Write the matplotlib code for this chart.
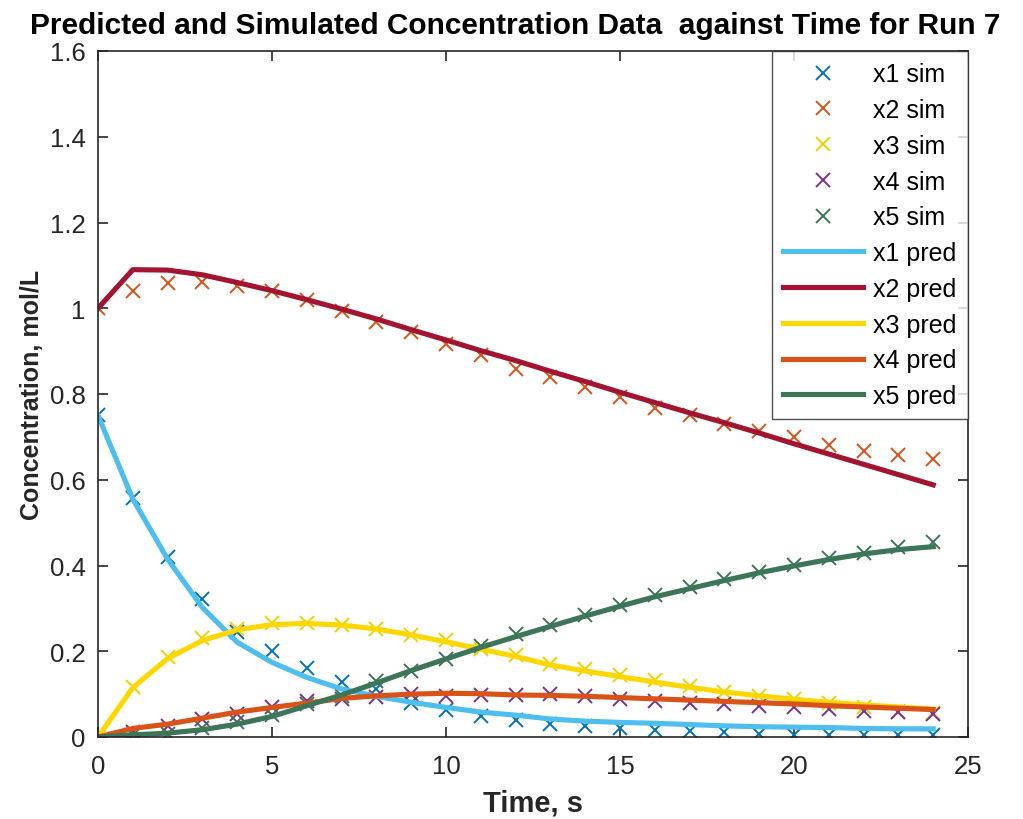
import numpy as np
import matplotlib.pyplot as plt
from matplotlib.ticker import FuncFormatter

plt.rcParams['font.family'] = ['Liberation Sans', 'DejaVu Sans']

# time points
t = list(range(25))

# simulated data (markers)
x1_sim = [0.751, 0.557, 0.419, 0.322, 0.245, 0.201, 0.162, 0.129, 0.112, 0.079, 0.063, 0.048, 0.039,
          0.030, 0.026, 0.020, 0.016, 0.014, 0.011, 0.007, 0.005, 0.005, 0.005, 0.004, 0.004]
x2_sim = [1.000, 1.040, 1.059, 1.061, 1.052, 1.040, 1.019, 0.994, 0.968, 0.945, 0.917, 0.891, 0.859,
          0.840, 0.816, 0.792, 0.767, 0.751, 0.731, 0.713, 0.700, 0.680, 0.668, 0.658, 0.648]
x3_sim = [0.000, 0.116, 0.186, 0.230, 0.253, 0.267, 0.265, 0.261, 0.252, 0.238, 0.226, 0.205, 0.192,
          0.170, 0.159, 0.145, 0.133, 0.120, 0.106, 0.096, 0.089, 0.079, 0.069, 0.059, 0.056]
x4_sim = [0.000, 0.012, 0.025, 0.042, 0.054, 0.069, 0.083, 0.089, 0.093, 0.100, 0.096, 0.099, 0.099,
          0.100, 0.096, 0.089, 0.083, 0.079, 0.077, 0.073, 0.069, 0.065, 0.061, 0.059, 0.054]
x5_sim = [0.000, 0.005, 0.008, 0.020, 0.036, 0.051, 0.077, 0.096, 0.131, 0.155, 0.182, 0.213, 0.240,
          0.261, 0.285, 0.308, 0.331, 0.349, 0.368, 0.386, 0.402, 0.417, 0.430, 0.444, 0.454]

# model predictions (lines)
x1_pred = [0.750, 0.555, 0.415, 0.302, 0.221, 0.174, 0.139, 0.112, 0.095, 0.081, 0.069, 0.058, 0.051,
           0.042, 0.037, 0.034, 0.032, 0.029, 0.026, 0.024, 0.023, 0.022, 0.020, 0.019, 0.019]
x2_pred = [1.000, 1.090, 1.089, 1.078, 1.060, 1.041, 1.020, 0.998, 0.975, 0.950, 0.926, 0.901, 0.878,
           0.853, 0.829, 0.804, 0.780, 0.756, 0.733, 0.709, 0.684, 0.660, 0.636, 0.612, 0.588]
x3_pred = [0.000, 0.115, 0.183, 0.225, 0.250, 0.262, 0.265, 0.261, 0.252, 0.238, 0.222, 0.205, 0.188,
           0.168, 0.154, 0.141, 0.128, 0.116, 0.105, 0.096, 0.088, 0.081, 0.075, 0.070, 0.065]
x4_pred = [0.000, 0.020, 0.030, 0.044, 0.058, 0.069, 0.079, 0.090, 0.096, 0.100, 0.102, 0.101, 0.098,
           0.097, 0.095, 0.092, 0.089, 0.086, 0.083, 0.080, 0.077, 0.073, 0.070, 0.067, 0.064]
x5_pred = [0.000, 0.005, 0.009, 0.017, 0.030, 0.048, 0.073, 0.098, 0.126, 0.155, 0.182, 0.209, 0.234,
           0.258, 0.282, 0.305, 0.327, 0.346, 0.365, 0.383, 0.399, 0.414, 0.427, 0.437, 0.444]

sim = [x1_sim, x2_sim, x3_sim, x4_sim, x5_sim]
pred = [x1_pred, x2_pred, x3_pred, x4_pred, x5_pred]
sim_col = ['#0072BD', '#D95319', '#F2D000', '#7E2F8E', '#3D7558']
pred_col = ['#4DBEEE', '#A2142F', '#FFD700', '#D95319', '#3D7558']

fig = plt.figure(figsize=(10.23, 8.2), dpi=100)
ax = fig.add_axes([98/1023, 82/820, 870/1023, 686/820])

for i in range(5):
    ax.plot(t, sim[i], 'x', color=sim_col[i], markersize=10, markeredgewidth=1.4,
            label='x%d sim' % (i+1))
for i in range(5):
    ax.plot(t, pred[i], '-', color=pred_col[i], linewidth=3.7, label='x%d pred' % (i+1))

ax.set_xlim(0, 25)
ax.set_ylim(0, 1.6)
ax.set_xticks([0, 5, 10, 15, 20, 25])
ax.set_yticks(np.arange(0, 1.61, 0.2))
ax.yaxis.set_major_formatter(FuncFormatter(lambda v, p: '%g' % round(v, 1)))
ax.tick_params(direction='in', top=True, right=True, length=7, width=1.2,
               labelsize=18.5, colors='#262626', pad=9)
ax.tick_params(axis='x', pad=12)
for s in ax.spines.values():
    s.set_color('#262626')
    s.set_linewidth(1.2)

ax.set_xlabel('Time, s', fontsize=21, fontweight='bold', color='#262626', labelpad=8)
ax.set_ylabel('Concentration, mol/L', fontsize=18, fontweight='bold', color='#262626', labelpad=4)
ax.set_title('Predicted and Simulated Concentration Data  against Time for Run 7',
             fontsize=21.5, fontweight='bold', pad=13, x=0.48)

leg = ax.legend(loc='upper right', fontsize=18, frameon=True, fancybox=False,
                edgecolor='#262626', handlelength=3.2, borderaxespad=0,
                labelspacing=0.47, handletextpad=0.4, borderpad=0.45)
leg.get_frame().set_linewidth(1.0)

fig.savefig('out.png', dpi=100)
